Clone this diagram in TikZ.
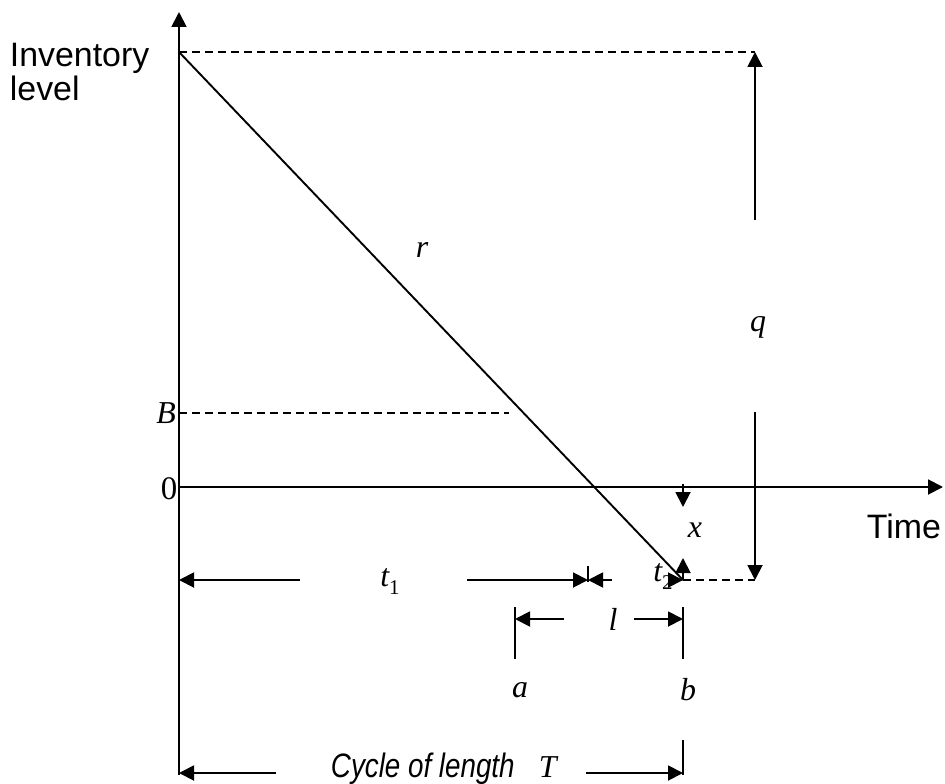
\documentclass[tikz,border=0pt]{standalone}
\usepackage{fontspec}
\setmainfont{Liberation Serif}
\newfontfamily\sansf{Liberation Sans}
\newfontfamily\narrowf{Liberation Sans}[FakeStretch=0.82]
\usetikzlibrary{arrows.meta}
\begin{document}
\begin{tikzpicture}[x=1bp,y=-1bp,line width=1.9bp,
  dline/.style={dash pattern=on 8bp off 5bp},
  arr/.style={-{Triangle[length=15bp,width=15bp]}},
  lab/.style={font=\fontsize{32}{32}\selectfont\itshape,inner sep=0pt},
  num/.style={font=\fontsize{33}{33}\selectfont,inner sep=0pt},
  stext/.style={font=\sansf\fontsize{34}{34}\selectfont,inner sep=0pt,anchor=base west}]
\fill[white] (0,0) rectangle (945,784);
\useasboundingbox (0,0) rectangle (945,784);
% axes
\coordinate (ybot) at (179,775);
\coordinate (ytop) at (179,12);
\coordinate (O) at (179,487);
\coordinate (xend) at (943,487);
\draw[arr] (ybot) -- (ytop);
\draw[arr] (O) -- (xend);
% inventory line
\coordinate (P) at (179,52);
\coordinate (Q) at (683,580);
\coordinate (Pq) at (755,52);
\coordinate (Qq) at (755,580);
\draw[dline] (P) -- (Pq);
\draw (P) -- (Q);
\draw[dline] (Q) -- (Qq);
\coordinate (B0) at (179,413);
\coordinate (B1) at (509,413);
\draw[dline] (B0) -- (B1);
% q
\coordinate (qa) at (755,220);
\coordinate (qb) at (755,412);
\draw[arr] (qa) -- (Pq);
\draw[arr] (qb) -- (Qq);
% x
\coordinate (xa) at (683,484);
\coordinate (xb) at (683,507);
\coordinate (xc) at (683,558);
\draw[arr] (xa) -- (xb);
\draw[arr] (Q) -- (xc);
% t1, t2
\coordinate (t1L) at (179,580);
\coordinate (t1a) at (300,580);
\coordinate (t1b) at (467,580);
\coordinate (t1R) at (588,580);
\coordinate (tk1) at (588,566);
\coordinate (tk2) at (588,582);
\coordinate (t2a) at (612,580);
\coordinate (t2b) at (668,580);
\draw[arr] (t1a) -- (t1L);
\draw[arr] (t1b) -- (t1R);
\draw (tk1) -- (tk2);
\draw[arr] (t2a) -- (t1R);
\draw[arr] (t2b) -- (Q);
% l
\coordinate (la1) at (515,607);
\coordinate (la2) at (515,659);
\coordinate (lb1) at (683,607);
\coordinate (lb2) at (683,659);
\coordinate (lL) at (515,619);
\coordinate (lR) at (683,619);
\coordinate (lLa) at (564,619);
\coordinate (lRa) at (634,619);
\draw (la1) -- (la2);
\draw (lb1) -- (lb2);
\draw[arr] (lLa) -- (lL);
\draw[arr] (lRa) -- (lR);
% cycle
\coordinate (cb1) at (683,740);
\coordinate (cb2) at (683,775);
\coordinate (cL) at (179,773);
\coordinate (cR) at (683,773);
\coordinate (cLa) at (276,773);
\coordinate (cRa) at (586,773);
\draw (cb1) -- (cb2);
\draw[arr] (cLa) -- (cL);
\draw[arr] (cRa) -- (cR);
% labels
\node[stext] (inv) at (9,67) {Inventory};
\node[stext] (lvl) at (9,100) {level};
\node[stext] (time) at (866,538) {Time};
\node[lab] (r) at (422,250) {r};
\node[lab] (q) at (758,327) {q};
\node[lab] (B) at (166,413) {B};
\node[num] (zero) at (169,489) {0};
\node[lab] (xl) at (695,530) {x};
\node[lab] (t1) at (390,582) {t\raisebox{-0.25em}{\fontsize{21}{21}\selectfont\upshape 1}};
\node[lab] (t2) at (663,577) {t\raisebox{-0.25em}{\fontsize{21}{21}\selectfont\upshape 2}};
\node[lab] (l) at (613,619) {l};
\node[lab] (a) at (520,690) {a};
\node[lab] (b) at (688,690) {b};
\node[inner sep=0pt,anchor=base west,font=\narrowf\itshape\fontsize{34}{34}\selectfont] (cyc) at (330,777) {Cycle of length};
\node[lab,anchor=base west] (T) at (538,777) {T};
\end{tikzpicture}
\end{document}
